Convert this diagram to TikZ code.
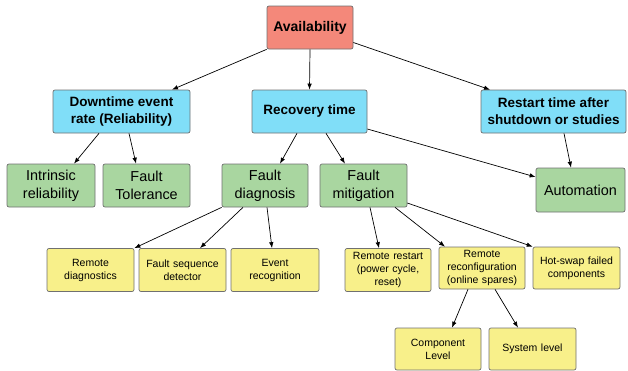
\documentclass[tikz,border=0pt]{standalone}
\usepackage{fontspec}
\setmainfont{Liberation Sans}
\usetikzlibrary{arrows.meta}
\definecolor{cred}{HTML}{F4887A}
\definecolor{cblue}{HTML}{80DEF8}
\definecolor{cgreen}{HTML}{A9D6A0}
\definecolor{cyellow}{HTML}{F8F08A}
\definecolor{cborder}{HTML}{707070}
\tikzset{
  box/.style={draw=cborder, line width=0.7pt, rounded corners=2pt, align=center, inner sep=1pt},
  topbox/.style={box, fill=cred, font=\fontsize{14}{17}\selectfont\bfseries},
  bluebox/.style={box, fill=cblue, font=\fontsize{13.5}{17}\selectfont\bfseries, minimum height=43pt},
  greenbox/.style={box, fill=cgreen, font=\fontsize{14.4}{18}\selectfont, minimum height=43pt},
  yellowbox/.style={box, fill=cyellow, font=\fontsize{10.5}{13}\selectfont, minimum height=43pt, minimum width=87pt, text width=84pt},
  arr/.style={line width=0.7pt, -{Latex[length=6pt,width=4.5pt]}}
}
\begin{document}
\begin{tikzpicture}[x=1pt,y=-1pt]
\useasboundingbox (0,0) rectangle (628,370);
% level 0
\node[topbox, minimum width=86pt, minimum height=43pt] (avail) at (310,27.5) {Availability};
% level 1
\node[bluebox, minimum width=137pt] (dt) at (121.5,111.5) {Downtime event\\rate (Reliability)};
\node[bluebox, minimum width=115pt] (rec) at (309.5,111.5) {Recovery time};
\node[bluebox, minimum width=145pt] (rst) at (553.5,111.5) {Restart time after\\shutdown or studies};
% level 2
\node[greenbox, minimum width=88pt] (intr) at (51,185.5) {Intrinsic\\reliability};
\node[greenbox, minimum width=87pt] (ftol) at (146.5,185.5) {Fault\\Tolerance};
\node[greenbox, minimum width=86pt] (fdiag) at (265,185.5) {Fault\\diagnosis};
\node[greenbox, minimum width=87pt] (fmit) at (363.5,185.5) {Fault\\mitigation};
\node[greenbox, minimum width=89pt, minimum height=44pt] (auto) at (580.5,190) {Automation};
% level 3
\node[yellowbox] (rd) at (90.5,270) {Remote\\diagnostics};
\node[yellowbox] (fsd) at (182.5,270) {Fault sequence\\detector};
\node[yellowbox, minimum width=88pt] (er) at (275,270) {Event\\recognition};
\node[yellowbox, minimum width=86pt] (rr) at (388,270) {Remote restart\\(power cycle,\\reset)};
\node[yellowbox, minimum width=86pt, minimum height=42pt] (rcfg) at (482,268) {Remote\\reconfiguration\\(online spares)};
\node[yellowbox, minimum height=42pt] (hot) at (576.5,268) {Hot-swap failed\\components};
% level 4
\node[yellowbox, minimum width=86pt, minimum height=42pt] (cl) at (438,349) {Component\\Level};
\node[yellowbox, minimum height=42pt] (sl) at (532.5,349) {System level};
% connectors
\draw[arr] (avail.south west) -- ([xshift=50.5pt]dt.north);
\draw[arr] (avail.south) -- (rec.north);
\draw[arr] ([yshift=-15pt]avail.east) -- ([xshift=-63.5pt]rst.north);
\draw[arr] ([xshift=-22.5pt]dt.south) -- ([xshift=23pt]intr.north);
\draw[arr] ([xshift=7.5pt]dt.south) -- ([xshift=-10.5pt]ftol.north);
\draw[arr] ([xshift=-12.5pt]rec.south) -- ([xshift=15pt]fdiag.north);
\draw[arr] ([xshift=16.5pt]rec.south) -- ([xshift=-18.5pt]fmit.north);
\draw[arr] ([yshift=-17.5pt]rec.east) -- ([yshift=13pt]auto.west);
\draw[arr] ([xshift=10.5pt]rst.south) -- ([xshift=-9.5pt]auto.north);
\draw[arr] (fdiag.south west) -- (rd.north east);
\draw[arr] ([xshift=-22pt]fdiag.south) -- ([xshift=17.5pt]fsd.north);
\draw[arr] ([xshift=2pt]fdiag.south) -- ([xshift=-3pt]er.north);
\draw[arr] ([xshift=6.5pt]fmit.south) -- ([xshift=-9pt]rr.north);
\draw[arr] ([xshift=31.5pt]fmit.south) -- ([xshift=-37pt]rcfg.north);
\draw[arr] ([yshift=-17.5pt]fmit.east) -- (hot.north west);
\draw[arr] ([xshift=-14pt]rcfg.south) -- ([xshift=14pt]cl.north);
\draw[arr] ([xshift=13pt]rcfg.south) -- ([xshift=-14.5pt]sl.north);
\end{tikzpicture}
\end{document}
